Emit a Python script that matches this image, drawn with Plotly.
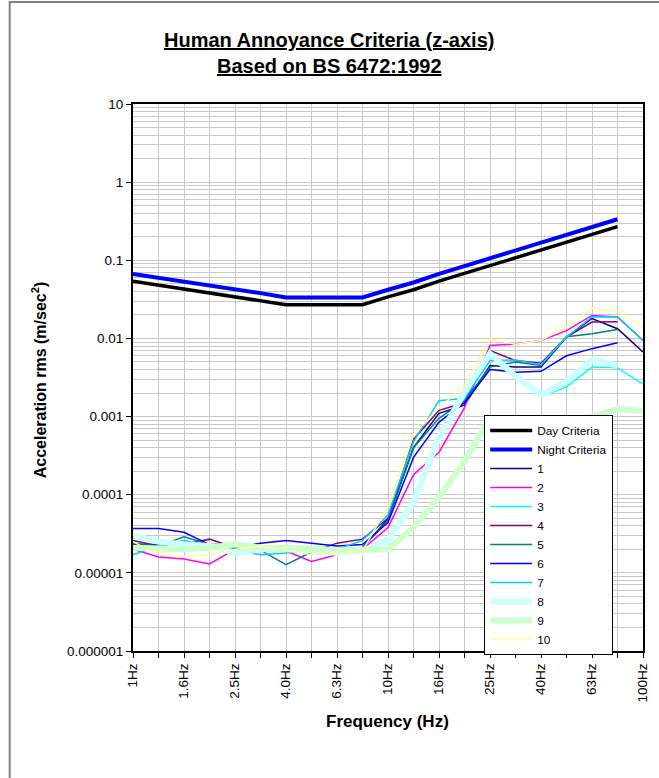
import plotly.graph_objects as go

# ---------------- DATA ----------------
freq = ["1Hz", "1.25Hz", "1.6Hz", "2.0Hz", "2.5Hz", "3.15Hz", "4.0Hz", "5.0Hz", "6.3Hz", "8.0Hz",
        "10Hz", "12.5Hz", "16Hz", "20Hz", "25Hz", "31.5Hz", "40Hz", "50Hz", "63Hz", "80Hz", "100Hz"]
x_tick_labels = ["1Hz", "1.6Hz", "2.5Hz", "4.0Hz", "6.3Hz", "10Hz", "16Hz", "25Hz", "40Hz", "63Hz", "100Hz"]
y_tick_vals = [0.000001, 0.00001, 0.0001, 0.001, 0.01, 0.1, 1, 10]
y_tick_text = ["0.000001", "0.00001", "0.0001", "0.001", "0.01", "0.1", "1", "10"]

day_criteria = [0.054, 0.048, 0.043, 0.038, 0.034, 0.030, 0.027, 0.027, 0.027, 0.027,
                0.034, 0.042, 0.054, 0.068, 0.084, 0.106, 0.135, 0.169, 0.213, 0.27, None]
night_criteria = [0.067, 0.060, 0.053, 0.047, 0.042, 0.038, 0.0335, 0.0335, 0.0335, 0.0335,
                  0.042, 0.052, 0.067, 0.084, 0.105, 0.132, 0.168, 0.21, 0.264, 0.335, None]

s1 = [2.3e-5, 2.3e-5, 2.2e-5, 2.3e-5, 2.3e-5, 2.2e-5, 2.0e-5, 1.9e-5, 2.0e-5, 2.1e-5,
      4.9e-5, 4.0e-4, 1.1e-3, 1.4e-3, 4.5e-3, 4.3e-3, 4.3e-3, 1.04e-2, 1.8e-2, 1.33e-2, 6.7e-3]
s2 = [2.0e-5, 1.6e-5, 1.5e-5, 1.3e-5, 2.0e-5, 2.0e-5, 1.9e-5, 1.4e-5, 1.7e-5, 2.0e-5,
      3.8e-5, 1.8e-4, 3.5e-4, 1.3e-3, 8.1e-3, 8.5e-3, 9.4e-3, 1.26e-2, 1.97e-2, 1.88e-2, 9.4e-3]
s3 = [2.2e-5, 2.0e-5, 2.4e-5, 2.2e-5, 2.0e-5, 2.1e-5, 2.0e-5, 1.9e-5, 1.9e-5, 2.0e-5,
      2.8e-5, 8.0e-5, 5.5e-4, 2.0e-3, 6.1e-3, 3.5e-3, 1.8e-3, 2.4e-3, 4.3e-3, 4.2e-3, 2.6e-3]
s4 = [2.6e-5, 2.2e-5, 2.3e-5, 2.7e-5, 2.1e-5, 2.0e-5, 1.9e-5, 1.85e-5, 2.4e-5, 2.7e-5,
      5.0e-5, 5.1e-4, 1.2e-3, 1.5e-3, 7.0e-3, 5.2e-3, 4.8e-3, 1.04e-2, 1.62e-2, 1.63e-2, None]
s5 = [2.4e-5, 2.2e-5, 2.9e-5, 2.3e-5, 2.0e-5, 1.95e-5, 1.27e-5, 1.85e-5, 1.95e-5, 2.1e-5,
      4.7e-5, 4.0e-4, 9.5e-4, 1.6e-3, 4.3e-3, 5.0e-3, 4.5e-3, 1.05e-2, 1.15e-2, 1.3e-2, None]
s6 = [3.7e-5, 3.7e-5, 3.3e-5, 2.3e-5, 2.1e-5, 2.4e-5, 2.6e-5, 2.4e-5, 2.2e-5, 2.3e-5,
      4.4e-5, 3.0e-4, 8.5e-4, 1.5e-3, 4.0e-3, 3.7e-3, 3.8e-3, 6.0e-3, 7.4e-3, 8.8e-3, None]
s7 = [1.7e-5, 2.2e-5, 2.6e-5, 2.2e-5, 2.0e-5, 1.7e-5, 1.8e-5, 1.9e-5, 2.0e-5, 2.6e-5,
      5.5e-5, 4.8e-4, 1.6e-3, 1.7e-3, 5.2e-3, 5.3e-3, 4.6e-3, 1.04e-2, 1.88e-2, 1.9e-2, 9.4e-3]
s8 = [3.0e-5, 2.5e-5, 2.3e-5, 2.2e-5, 1.8e-5, 2.0e-5, 2.0e-5, 1.95e-5, 1.8e-5, 1.9e-5,
      2.6e-5, 8.0e-5, 5.5e-4, 2.05e-3, 6.4e-3, 3.3e-3, 1.9e-3, 2.8e-3, 5.3e-3, 4.5e-3, None]
s9 = [2.1e-5, 2.05e-5, 2.0e-5, 2.1e-5, 2.3e-5, 2.1e-5, 2.1e-5, 2.05e-5, 1.95e-5, 2.0e-5,
      2.0e-5, 3.8e-5, 9.3e-5, 2.7e-4, 9.5e-4, 8.5e-4, 8.2e-4, 8.5e-4, 1.0e-3, 1.25e-3, 1.18e-3]
s10 = [2.5e-5, 1.7e-5, 1.6e-5, 1.7e-5, 2.0e-5, 2.2e-5, 1.95e-5, 1.7e-5, 1.8e-5, 1.9e-5,
       7.2e-5, 5.9e-4, 1.3e-3, 2.5e-3, 9.9e-3, 8.4e-3, 9.4e-3, 1.4e-2, 2.45e-2, 2.2e-2, 1.4e-2]

series_names = ["Day Criteria", "Night Criteria", "1", "2", "3", "4", "5", "6", "7", "8", "9", "10"]
series_values = [day_criteria, night_criteria, s1, s2, s3, s4, s5, s6, s7, s8, s9, s10]
series_colors = ["#000000", "#0000FF", "#000080", "#FF00FF", "#00FFFF", "#800080", "#008080",
                 "#0000FF", "#00CCFF", "#CCFFFF", "#CCFFCC", "#FFFF99"]
series_widths = [3.5, 4, 1.5, 1.5, 1.5, 1.5, 1.5, 1.5, 1.5, 6, 6, 1.5]

title_lines = ["Human Annoyance Criteria (z-axis)", "Based on BS 6472:1992"]

# ---------------- FIGURE ----------------
FONT = "Arial, Liberation Sans, sans-serif"
fig = go.Figure()
for name, vals, col, w in zip(series_names, series_values, series_colors, series_widths):
    fig.add_trace(go.Scatter(x=freq, y=vals, name=name, mode="lines",
                             line=dict(color=col, width=w), connectgaps=False))

L, R, T, B = 133, 9, 104, 127
W, H = 659, 778
pw, ph = W - L - R, H - T - B

def px_x(p):
    return (p - L) / pw

def px_y(p):
    return (H - B - p) / ph

minor_vals = [m * 10.0 ** e for e in range(-6, 1) for m in range(2, 10)]

fig.update_layout(
    width=W, height=H,
    margin=dict(l=L, r=R, t=T, b=B, pad=0),
    paper_bgcolor="white", plot_bgcolor="white",
    font=dict(family=FONT, color="#000000"),
    showlegend=True,
    legend=dict(x=px_x(489), y=px_y(415), xanchor="left", yanchor="top",
                bgcolor="white", bordercolor="#000000", borderwidth=1,
                font=dict(size=11.8, family=FONT, color="#000000"),
                tracegroupgap=0, itemwidth=42),
    xaxis=dict(type="category", categoryorder="array", categoryarray=freq,
               range=[0, len(freq) - 1],
               tickmode="array", tickvals=freq,
               ticktext=[f if f in x_tick_labels else "" for f in freq],
               tickangle=-90, ticks="outside", ticklen=5, tickcolor="#000000", tickwidth=1,
               tickfont=dict(size=13.5, family=FONT, color="#000000"),
               showgrid=True, gridcolor="#C8C8C8", gridwidth=1,
               showline=True, linecolor="#000000", linewidth=2, mirror=True,
               zeroline=False),
    yaxis=dict(type="log", range=[-6, 1],
               tickmode="array", tickvals=y_tick_vals, ticktext=y_tick_text,
               ticks="outside", ticklen=5, tickcolor="#000000", tickwidth=1,
               tickfont=dict(size=13.5, family=FONT, color="#000000"),
               showgrid=True, gridcolor="#C8C8C8", gridwidth=1,
               minor=dict(tickvals=minor_vals, showgrid=True, gridcolor="#C8C8C8", gridwidth=1, ticks=""),
               showline=True, linecolor="#000000", linewidth=2, mirror=True,
               zeroline=False),
    annotations=[
        dict(text="<br>".join("<b><u>" + t + "</u></b>" for t in title_lines),
             xref="paper", yref="paper", x=px_x(332), y=px_y(27), xanchor="center", yanchor="top",
             showarrow=False, align="center", font=dict(size=20, family=FONT, color="#000000")),
        dict(text="<b>Acceleration rms (m/sec<sup>2</sup>)</b>", textangle=-90,
             xref="paper", yref="paper", x=px_x(38), y=px_y(380), xanchor="center", yanchor="middle",
             showarrow=False, font=dict(size=16, family=FONT, color="#000000")),
        dict(text="<b>Frequency (Hz)</b>",
             xref="paper", yref="paper", x=px_x(391), y=px_y(721), xanchor="center", yanchor="middle",
             showarrow=False, font=dict(size=17, family=FONT, color="#000000")),
    ],
    shapes=[
        dict(type="rect", xref="paper", yref="paper",
             x0=px_x(8), x1=px_x(700), y0=px_y(820), y1=px_y(2),
             line=dict(color="#808080", width=2), fillcolor="rgba(0,0,0,0)", layer="below"),
    ],
)

fig.write_html("out.html")
